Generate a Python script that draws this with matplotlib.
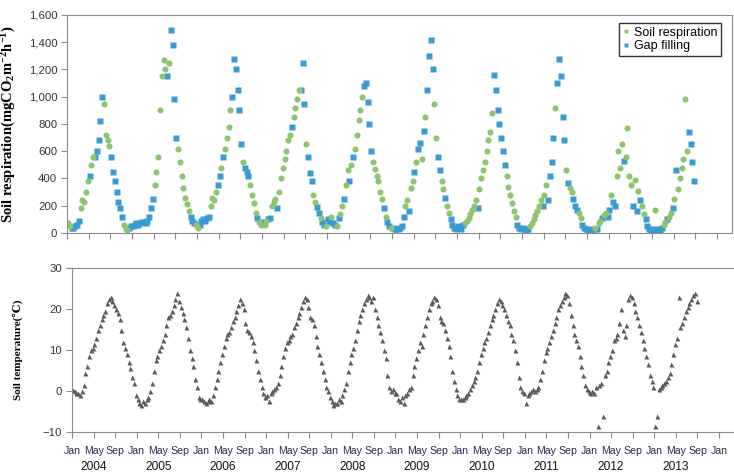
import matplotlib
matplotlib.use("Agg")
import matplotlib.pyplot as plt
import matplotlib.transforms as mtransforms
from matplotlib.ticker import FuncFormatter

# soil respiration (mg CO2 m-2 h-1), three readings per month, Jan..Dec
resp_2004 = [70, 55, 35, 40, 50, 60, 90, 180, 240, 230, 300, 380,
             420, 500, 560, 560, 600, 680, 820, 1000, 950, 720, 680, 640,
             560, 450, 380, 300, 230, 180, 120, 60, 30, 20, 40, 50]
resp_2005 = [50, 60, 70, 60, 70, 80, 80, 70, 90, 120, 180, 250,
             350, 450, 560, 900, 1150, 1270, 1200, 1150, 1250, 1490, 1380, 980,
             700, 620, 520, 420, 330, 260, 210, 160, 120, 90, 70, 60]
resp_2006 = [40, 60, 90, 100, 90, 110, 120, 200, 260, 240, 300, 350,
             420, 480, 560, 620, 700, 780, 900, 1000, 1280, 1200, 1050, 900,
             650, 520, 480, 450, 420, 350, 280, 220, 150, 110, 80, 60]
resp_2007 = [80, 60, 90, 100, 110, 200, 230, 250, 180, 300, 400, 480,
             540, 600, 680, 720, 780, 850, 920, 980, 1050, 1050, 1250, 950,
             650, 560, 440, 380, 280, 230, 190, 150, 110, 80, 60, 50]
resp_2008 = [100, 80, 120, 70, 60, 50, 110, 140, 200, 250, 350, 460,
             380, 500, 560, 620, 720, 830, 900, 1000, 1080, 1100, 960, 800,
             600, 520, 470, 420, 380, 300, 250, 180, 120, 80, 50, 40]
resp_2009 = [40, 30, 30, 30, 40, 50, 120, 200, 240, 160, 330, 380,
             450, 520, 620, 660, 540, 750, 850, 1050, 1300, 1420, 1200, 950,
             700, 560, 460, 380, 320, 260, 200, 150, 100, 60, 40, 30]
resp_2010 = [50, 40, 30, 60, 70, 90, 110, 140, 170, 200, 240, 180,
             320, 400, 460, 520, 600, 680, 740, 880, 1160, 1050, 900, 800,
             700, 600, 500, 420, 340, 280, 220, 160, 120, 60, 40, 30]
resp_2011 = [40, 30, 20, 30, 50, 70, 100, 130, 160, 200, 240, 200,
             280, 350, 240, 420, 520, 700, 920, 1100, 1280, 1150, 850, 680,
             460, 370, 330, 300, 250, 200, 170, 150, 110, 60, 40, 30]
resp_2012 = [20, 30, 25, 20, 40, 30, 70, 90, 110, 130, 150, 120,
             170, 280, 230, 200, 420, 600, 480, 650, 530, 560, 770, 420,
             350, 200, 390, 160, 310, 240, 200, 140, 100, 50, 30, 20]
resp_2013 = [30, 170, 20, 30, 25, 40, 60, 80, 100, 120, 150, 180,
             250, 460, 320, 400, 480, 540, 980, 600, 740, 650, 520, 380]

# M = measured (soil respiration), G = gap filling
src_2004 = "MMG GGG GMM MMM GMM GGG GGM MMM GGG GGG GMM MGG"
src_2005 = "GGG GGG GGG GGG MMM MMM MGM GGG GMM MMM MMG GGM"
src_2006 = "MGG GGG GMM MMG GMG MMM MGG GGG GMG GGM MMM GMM"
src_2007 = "GMM GGM MMG MMM MMM MGM MMM GGG MGG GMM GGM GGM"
src_2008 = "GGM GGM GMM GMM GMG MMM MMG GGG GMM MMM MGM GGM"
src_2009 = "GGG GGG GMM GMM GMG GMG MGG GGM MGG MMG MMG GGG"
src_2010 = "GGG GMM MMM MMG MMM MMM MMG GGG GGG MMM MMM GGG"
src_2011 = "GGG GMM MMM MMG MMG GGG MGG GGG MGM MGG GMM GGG"
src_2012 = "GGG GMG MMG MMG GMG GMM MMG MMM MGM GMG MMG GGG"
src_2013 = "GMG GGG MMG MMG MGM MMM MMG GGG"

# soil temperature (deg C), three readings per month
temp_2004 = [0.3, 0.0, -0.5, -0.5, -1.0, 0.0, 1.5, 4.5, 6.0, 8.5, 10.0, 10.5,
             11.5, 13.0, 15.0, 16.0, 17.5, 18.5, 19.5, 21.5, 22.5, 23.0, 22.0, 21.0,
             20.0, 19.0, 17.5, 15.0, 12.0, 10.5, 9.0, 7.0, 5.5, 3.5, 2.0, -1.0]
temp_2005 = [-2.0, -3.0, -3.5, -2.5, -3.0, -2.0, -1.5, 0.0, 2.0, 5.0, 7.5, 8.5,
             10.0, 11.0, 12.5, 14.0, 16.0, 18.0, 18.5, 19.5, 21.0, 22.5, 24.0, 22.0,
             20.5, 19.0, 17.5, 15.5, 13.0, 10.0, 8.0, 6.0, 3.0, 1.0, -1.5, -2.0]
temp_2006 = [-2.0, -2.5, -3.0, -2.5, -2.0, -2.5, -1.0, 1.0, 3.0, 5.0, 7.0, 9.0,
             11.0, 13.0, 14.0, 14.5, 15.5, 17.0, 18.0, 19.5, 21.0, 22.5, 21.5, 20.0,
             16.5, 15.0, 14.5, 13.5, 12.0, 10.0, 7.5, 5.0, 3.0, 1.0, -0.5, -1.5]
temp_2007 = [-1.0, -2.5, -0.5, 0.0, 0.5, 1.0, 2.0, 4.0, 6.0, 8.5, 10.5, 12.0,
             12.5, 13.5, 14.0, 15.5, 16.5, 18.0, 19.0, 20.5, 22.0, 23.0, 22.5, 20.5,
             18.0, 17.5, 16.0, 13.5, 11.0, 9.0, 7.0, 5.0, 3.0, 1.0, 0.0, -1.5]
temp_2008 = [-2.5, -3.5, -3.0, -3.0, -2.0, -2.5, -1.0, 0.5, 2.0, 5.0, 7.0, 9.0,
             10.5, 12.5, 15.0, 17.0, 18.5, 20.0, 21.5, 22.5, 23.5, 23.0, 22.0, 23.0,
             20.0, 18.0, 16.0, 14.5, 12.5, 10.0, 8.0, 4.0, 1.0, 0.0, 0.5, -0.5]
temp_2009 = [-0.5, -2.0, -2.5, -1.5, -3.0, -1.0, -0.5, 0.5, 1.0, 4.0, 6.0, 8.0,
             10.0, 12.0, 11.0, 14.0, 16.0, 18.0, 20.0, 21.5, 22.0, 23.0, 22.5, 21.0,
             18.0, 17.0, 16.5, 15.0, 13.0, 11.0, 8.5, 5.0, 2.5, 0.5, -1.0, -2.0]
temp_2010 = [-2.0, -2.0, -1.5, -1.0, -0.5, 0.5, 1.5, 2.5, 3.5, 5.0, 7.0, 9.0,
             10.5, 12.0, 13.0, 14.5, 16.0, 17.5, 18.5, 20.0, 21.5, 22.5, 22.0, 21.0,
             20.0, 18.5, 17.0, 16.0, 14.0, 12.5, 10.0, 7.0, 3.5, 1.0, 0.0, -0.5]
temp_2011 = [-3.0, -1.0, -0.5, 0.0, 0.5, 0.0, 0.5, 1.0, 3.0, 5.0, 7.5, 9.5,
             10.5, 12.0, 13.5, 15.0, 16.5, 18.0, 20.0, 21.0, 22.0, 23.0, 24.0, 23.5,
             21.5, 18.5, 16.0, 14.0, 12.5, 11.0, 8.5, 6.0, 4.0, 1.5, 0.5, 0.0]
temp_2012 = [-0.5, 0.0, -0.5, 1.0, -8.5, 1.5, 2.0, -6.0, 4.0, 5.0, 7.0, 8.5,
             10.0, 12.5, 13.0, 14.0, 16.5, 20.0, 15.0, 13.5, 16.0, 22.5, 23.5, 23.0,
             21.5, 19.5, 18.0, 16.0, 14.5, 12.5, 10.5, 8.5, 6.5, 4.0, 2.5, 1.0]
temp_2013 = [-8.5, -6.0, 0.5, 1.0, 1.5, 2.0, 2.5, 3.5, 4.5, 6.5, 9.0, 11.5,
             13.0, 23.0, 15.5, 16.5, 18.0, 19.5, 20.5, 21.5, 22.5, 23.5, 24.0, 22.0]

years = [2004, 2005, 2006, 2007, 2008, 2009, 2010, 2011, 2012, 2013]
resp_by_year = [resp_2004, resp_2005, resp_2006, resp_2007, resp_2008,
                resp_2009, resp_2010, resp_2011, resp_2012, resp_2013]
src_by_year = [src_2004, src_2005, src_2006, src_2007, src_2008,
               src_2009, src_2010, src_2011, src_2012, src_2013]
temp_by_year = [temp_2004, temp_2005, temp_2006, temp_2007, temp_2008,
                temp_2009, temp_2010, temp_2011, temp_2012, temp_2013]
month_names = ["Jan", "May", "Sep"]

GREEN = "#8cc56e"
BLUE = "#3a9bd2"
GREY = "#5a5a5a"
AXIS = "#8c8c8c"


def month_pos(yi, n):
    # months since Jan 2004, three readings per month
    return [yi * 12 + (k + 0.5) / 3.0 for k in range(n)]


mx, my, gx, gy, tx, ty = [], [], [], [], [], []
for yi, (r, s, t) in enumerate(zip(resp_by_year, src_by_year, temp_by_year)):
    s = s.replace(" ", "")
    for x, v, c in zip(month_pos(yi, len(r)), r, s):
        if c == "M":
            mx.append(x); my.append(v)
        else:
            gx.append(x); gy.append(v)
    tx += month_pos(yi, len(t))
    ty += t

plt.rcParams["font.family"] = ["Liberation Sans", "DejaVu Sans"]
serif = ["Liberation Serif", "DejaVu Serif"]

fig = plt.figure(figsize=(7.34, 4.73), dpi=100)
W, H = 734.0, 473.0
ax1 = fig.add_axes([67 / W, 1 - 233 / H, (732 - 67) / W, (233 - 15) / H])
ax2 = fig.add_axes([72 / W, 1 - 432 / H, (733 - 72) / W, (432 - 268) / H])

ax1.plot(gx, gy, ls="none", marker="s", ms=4.2, color=BLUE, mec="none", label="Gap filling")
ax1.plot(mx, my, ls="none", marker="o", ms=4.4, color=GREEN, mec="none", label="Soil respiration")
ax2.plot(tx, ty, ls="none", marker="^", ms=3.6, color=GREY, mec="none")

ax1.set_xlim(0, 122.8)
ax1.set_ylim(0, 1600)
ax1.set_yticks(range(0, 1601, 200))
ax1.yaxis.set_major_formatter(FuncFormatter(lambda v, p: "{:,.0f}".format(v)))
ax1.set_xticks(range(0, 121, 4))
ax1.set_xticklabels([])

ax2.set_xlim(0, 122.6)
ax2.set_ylim(-10, 30)
ax2.set_yticks([-10, 0, 10, 20, 30])
ax2.set_xticks(range(0, 121, 4))
ax2.set_xticklabels([month_names[i % 3] for i in range(31)], fontsize=7.6, color="#2b2850")
ax2.spines["right"].set_visible(False)

for ax in (ax1, ax2):
    for sp in ax.spines.values():
        sp.set_color(AXIS)
    ax.tick_params(direction="out", length=4, color=AXIS)
    ax.tick_params(axis="y", labelsize=8.2, labelcolor="#333333", pad=3)

ax2.tick_params(axis="x", pad=6)

trans = mtransforms.blended_transform_factory(ax2.transData, ax2.transAxes)
for yi, yr in enumerate(years):
    ax2.text(yi * 12 + 4, -0.213, str(yr), transform=trans, ha="center", va="center",
             fontsize=8.6, color="#111111")

ax1.set_ylabel(r"Soil respiration(mgCO$\mathregular{_2}$m$\mathregular{^{-2}}$h$\mathregular{^{-1}}$)",
               family=serif, fontweight="bold", fontsize=10.5)
ax1.yaxis.set_label_coords(-0.0737, 0.5)
ax2.set_ylabel("Soil temperature(\u2103)", family=serif, fontweight="bold", fontsize=8)
ax2.yaxis.set_label_coords(-0.074, 0.5)

h, l = ax1.get_legend_handles_labels()
leg = ax1.legend(h[::-1], l[::-1], loc="upper right", bbox_to_anchor=(0.9835, 0.963),
                 borderaxespad=0, fancybox=False, frameon=True, handlelength=0.5,
                 handletextpad=0.35, labelspacing=0.1, borderpad=0.3, markerscale=0.7,
                 prop={"size": 9})
leg.get_frame().set_edgecolor("black")
leg.get_frame().set_linewidth(1.0)

fig.savefig("out.png", dpi=100)
